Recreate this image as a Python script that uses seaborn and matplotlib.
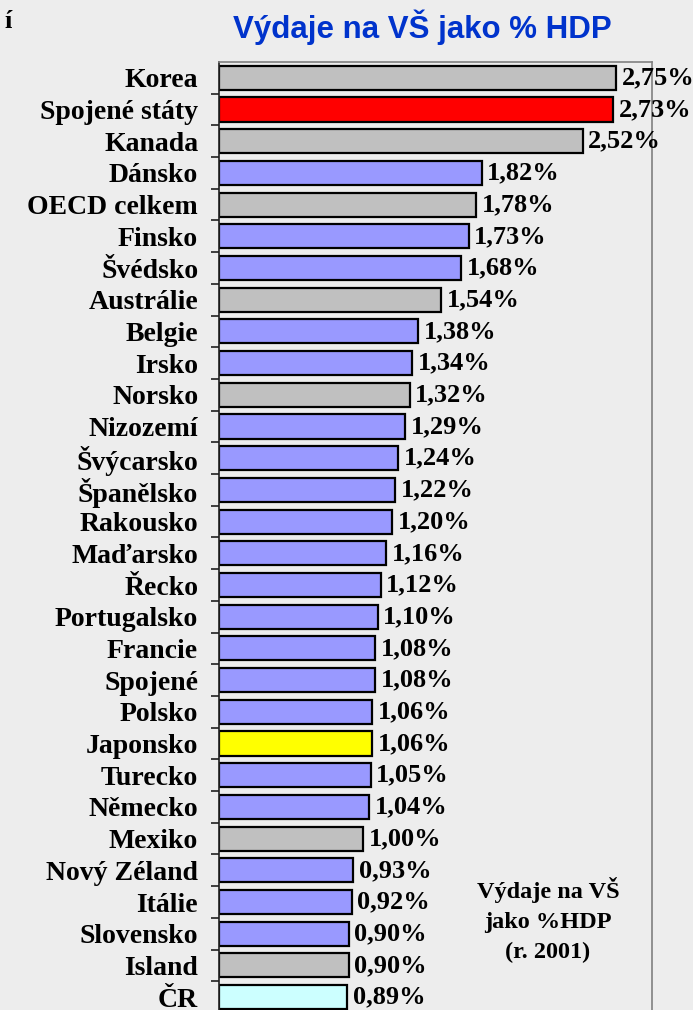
import matplotlib
matplotlib.use("Agg")
import matplotlib.pyplot as plt
import seaborn as sns

# data
countries = ["Korea", "Spojené státy", "Kanada", "Dánsko", "OECD celkem", "Finsko",
             "Švédsko", "Austrálie", "Belgie", "Irsko", "Norsko", "Nizozemí",
             "Švýcarsko", "Španělsko", "Rakousko", "Maďarsko", "Řecko", "Portugalsko",
             "Francie", "Spojené", "Polsko", "Japonsko", "Turecko", "Německo",
             "Mexiko", "Nový Zéland", "Itálie", "Slovensko", "Island", "ČR"]
values = [2.75, 2.73, 2.52, 1.82, 1.78, 1.73, 1.68, 1.54, 1.38, 1.34, 1.32, 1.29,
          1.24, 1.22, 1.20, 1.16, 1.12, 1.10, 1.08, 1.08, 1.06, 1.06, 1.05, 1.04,
          1.00, 0.93, 0.92, 0.90, 0.90, 0.89]
groups = ["g", "us", "g", "b", "g", "b", "b", "g", "b", "b", "g", "b",
          "b", "b", "b", "b", "b", "b", "b", "b", "b", "jp", "b", "b",
          "g", "b", "b", "b", "g", "cz"]
group_colors = {"g": "#C0C0C0", "b": "#9999FF", "us": "#FF0000",
                "jp": "#FFFF00", "cz": "#CCFFFF"}

bg = "#EDEDED"
fig = plt.figure(figsize=(6.93, 10.10), dpi=100, facecolor=bg)

ax = fig.add_axes([219 / 693, -3 / 1010, 433 / 693, 0.9416])
ax.set_facecolor("none")

palette = [group_colors[g] for g in groups]
sns.barplot(x=values, y=countries, hue=countries, palette=palette, legend=False,
            orient="h", width=0.76, edgecolor="black", linewidth=1.6,
            saturation=1, ax=ax)

ax.set_xlim(0, 3)
ax.set_ylim(len(countries) - 0.5, -0.5)
ax.set_xlabel("")
ax.set_ylabel("")
ax.set_xticks([])

# category labels, ticks sit between bars
ax.tick_params(axis="y", which="major", length=0, pad=15)
ax.set_yticks([i + 0.5 for i in range(len(countries) - 1)], minor=True)
ax.tick_params(axis="y", which="minor", length=6, width=1.2, color="#202020", direction="out")
for lab in ax.get_yticklabels():
    lab.set_family("Liberation Serif")
    lab.set_fontweight("bold")
    lab.set_fontsize(20)

for s in ["top", "right"]:
    ax.spines[s].set_color("#808080")
    ax.spines[s].set_linewidth(1.2)
ax.spines["left"].set_color("#202020")
ax.spines["left"].set_linewidth(1.2)
ax.spines["bottom"].set_visible(False)

for i, v in enumerate(values):
    ax.annotate(f"{v:.2f}%".replace(".", ","), xy=(v, i), xytext=(4, 0),
                textcoords="offset points", va="center", ha="left",
                family="Liberation Serif", fontweight="bold", fontsize=19,
                annotation_clip=False)

ax.text(0.76, 0.098, "Výdaje na VŠ\njako %HDP\n(r. 2001)", transform=ax.transAxes,
        ha="center", va="center", family="Liberation Serif", fontweight="bold",
        fontsize=17.5, linespacing=1.55)

fig.text(422 / 693, 1 - 27 / 1010, "Výdaje na VŠ jako % HDP", ha="center", va="center",
         family="Liberation Sans", fontweight="bold", fontsize=22.5, color="#0033CC")
fig.text(4 / 693, 1 - 22 / 1010, "í", ha="left", va="center",
         family="Liberation Serif", fontweight="bold", fontsize=19)

fig.savefig("out.png", dpi=100, facecolor=bg)
